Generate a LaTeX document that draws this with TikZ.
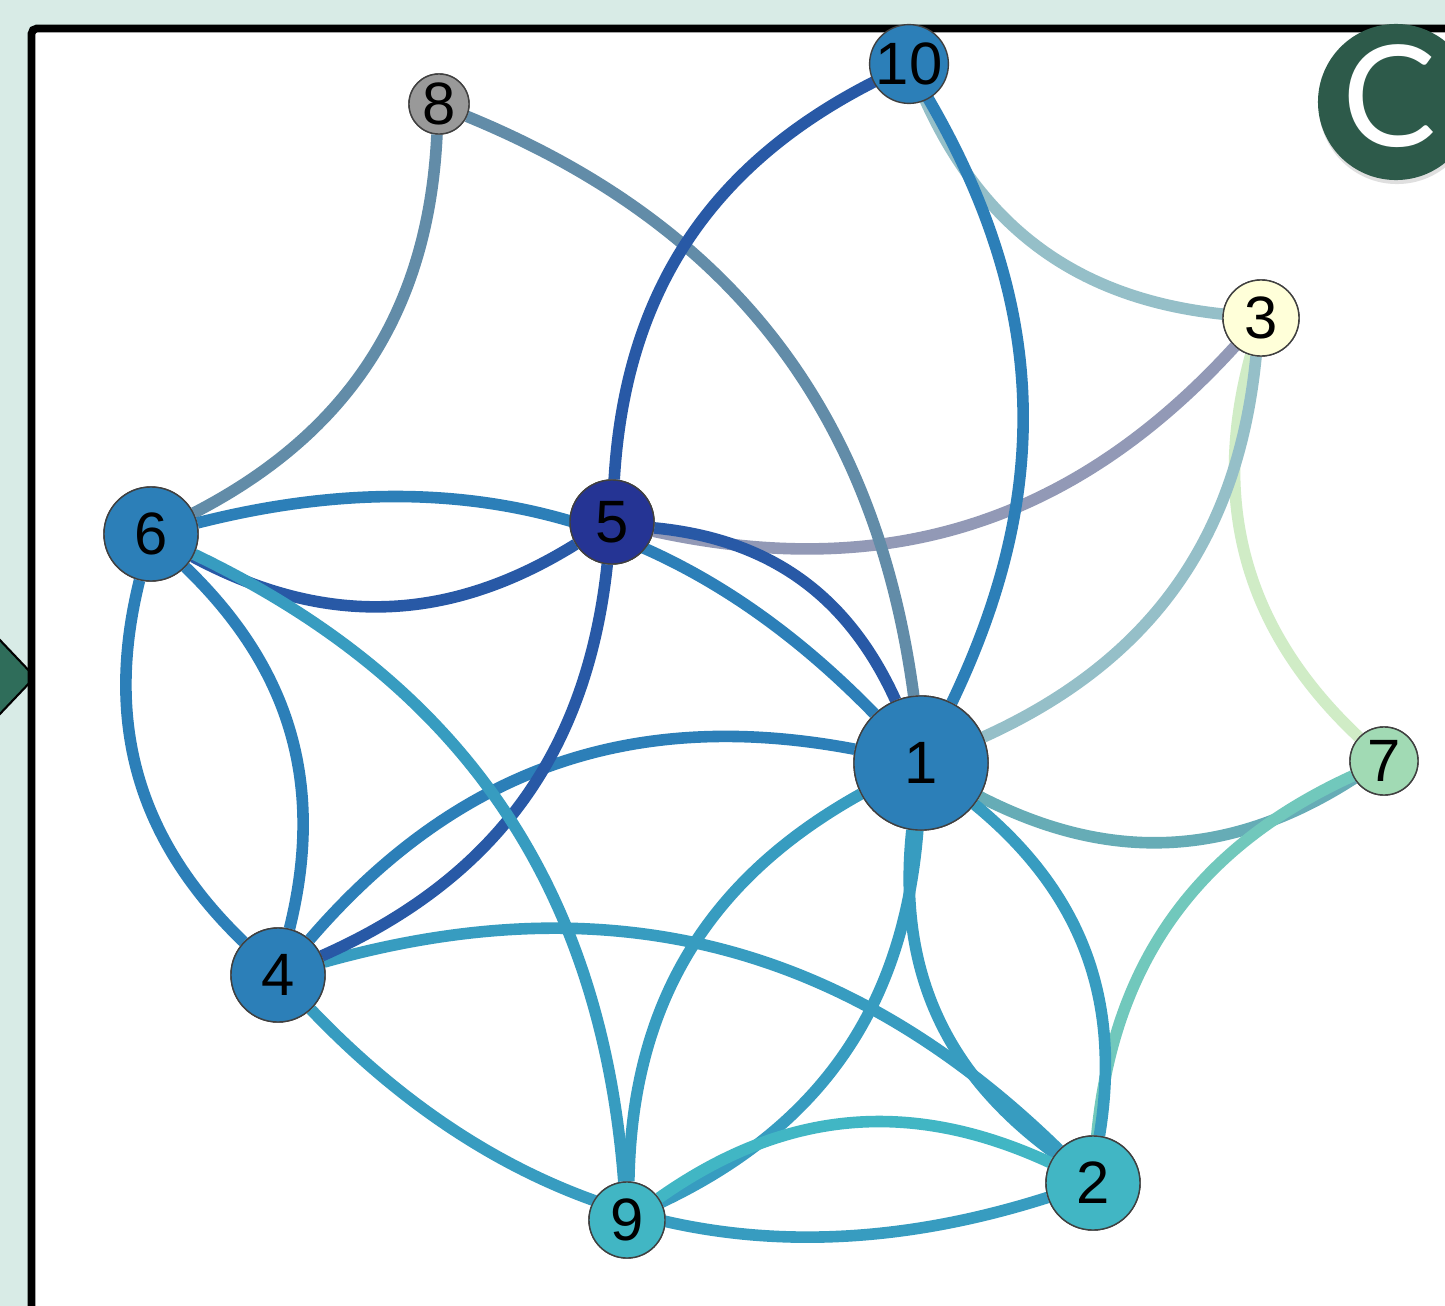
\documentclass[tikz,border=0pt]{standalone}
\usepackage{fontspec}
\setmainfont{Liberation Sans}
\newfontfamily\badgefont{Lato}
\usetikzlibrary{shadows}

% vertex colours
\definecolor{bgteal}{HTML}{D8EBE6}
\definecolor{arrowgreen}{HTML}{2F6D5A}
\definecolor{badgegreen}{HTML}{2D5A4A}
\definecolor{vblue}{HTML}{2C7FB8}
\definecolor{vteal}{HTML}{41B6C4}
\definecolor{vyellow}{HTML}{FFFFD9}
\definecolor{vnavy}{HTML}{253494}
\definecolor{vmint}{HTML}{A1DAB4}
\definecolor{vgrey}{HTML}{999999}
% edge colours (mean of the two end colours)
\definecolor{eblueteal}{HTML}{379CC0}
\definecolor{egreyblue}{HTML}{628CA8}
\definecolor{enavyblue}{HTML}{2859A6}
\definecolor{eyellowblue}{HTML}{95BFC8}
\definecolor{eyellownavy}{HTML}{9299B6}
\definecolor{eyellowmint}{HTML}{D0ECC6}
\definecolor{emintblue}{HTML}{66ACB6}
\definecolor{emintteal}{HTML}{71C8BC}

\begin{document}
\begin{tikzpicture}[x=0.01cm,y=-0.01cm,
  vert/.style={circle,draw=black!75,line width=0.4pt,inner sep=0pt,
    font=\fontsize{17}{17}\selectfont},
  link/.style={line width=3.3pt}]
\useasboundingbox (0,0) rectangle (1445,1306);
\begin{scope}
\clip (0,0) rectangle (1445,1306);
\fill[bgteal] (0,0) rectangle (1445,1306);
% side arrow peeking in from the left
\fill[arrowgreen,draw=black,line width=0.6pt] (-40,598) -- (35,677) -- (-40,756) -- cycle;
% white panel
\draw[line width=2.2pt,fill=white,rounded corners=1.5pt] (31.5,28.5) rectangle (1700,1500);

% vertices (placed first so edges can refer to them, redrawn on top below)
\path
  (921,763)  node[vert,minimum size=1.34cm] (n1) {}
  (1093,1183) node[vert,minimum size=0.94cm] (n2) {}
  (1261,318) node[vert,minimum size=0.76cm] (n3) {}
  (278,975)  node[vert,minimum size=0.94cm] (n4) {}
  (612,522)  node[vert,minimum size=0.84cm] (n5) {}
  (151,534)  node[vert,minimum size=0.94cm] (n6) {}
  (1384,761) node[vert,minimum size=0.68cm] (n7) {}
  (439,104)  node[vert,minimum size=0.60cm] (n8) {}
  (627,1220) node[vert,minimum size=0.76cm] (n9) {}
  (909,64)   node[vert,minimum size=0.70cm] (n10) {};

% edges
\draw[link,eyellowmint] (n3) to[bend right=31] (n7);
\draw[link,eyellowblue] (n10) to[bend right=30] (n3);
\draw[link,eyellowblue] (n3) to[bend left=30] (n1);
\draw[link,eyellownavy] (n3) to[bend left=30] (n5);
\draw[link,emintblue] (n7) to[bend left=30] (n1);
\draw[link,emintteal] (n7) to[bend right=30] (n2);
\draw[link,egreyblue] (n8) to[bend left=30] (n6);
\draw[link,egreyblue] (n8) to[bend left=30] (n1);
\draw[link,vblue] (n10) to[bend left=28] (n1);
\draw[link,enavyblue] (n10) to[bend right=30] (n5);
\draw[link,vblue] (n6) to[bend left=30] (n1);
\draw[link,enavyblue] (n6) to[bend right=30] (n5);
\draw[link,enavyblue] (n5) to[bend left=30] (n1);
\draw[link,vblue] (n6) to[bend right=30] (n4);
\draw[link,vblue] (n6) to[bend left=30] (n4);
\draw[link,vblue] (n4) to[bend left=30] (n1);
\draw[link,eblueteal] (n4) to[bend left=30] (n2);
\draw[link,eblueteal] (n4) to[bend right=32] (n2);
\draw[link,enavyblue] (n5) to[bend left=30] (n4);
\draw[link,eblueteal] (n6) to[bend left=30] (n9);
\draw[link,eblueteal] (n1) to[bend right=30] (n9);
\draw[link,eblueteal] (n1) to[bend left=30] (n9);
\draw[link,eblueteal] (n1) to[bend right=30] (n2);
\draw[link,eblueteal] (n1) to[bend left=30] (n2);
\draw[link,vteal] (n9) to[bend left=30] (n2);

% vertices on top of the edges
\node[vert,fill=vblue,minimum size=1.34cm] at (n1) {1};
\node[vert,fill=vteal,minimum size=0.94cm] at (n2) {2};
\node[vert,fill=vyellow,minimum size=0.76cm] at (n3) {3};
\node[vert,fill=vblue,minimum size=0.94cm] at (n4) {4};
\node[vert,fill=vnavy,minimum size=0.84cm] at (n5) {5};
\node[vert,fill=vblue,minimum size=0.94cm] at (n6) {6};
\node[vert,fill=vmint,minimum size=0.68cm] at (n7) {7};
\node[vert,fill=vgrey,minimum size=0.60cm] at (n8) {8};
\node[vert,fill=vteal,minimum size=0.76cm] at (n9) {9};
\node[vert,fill=vblue,minimum size=0.70cm] at (n10) {10};

% panel badge
\node[circle,fill=badgegreen,minimum size=1.56cm,inner sep=0pt,
  drop shadow={opacity=0.25,shadow xshift=0.01cm,shadow yshift=-0.04cm}] (badge) at (1396,102) {};
\node[text=white,font=\badgefont\fontsize{40}{40}\selectfont,inner sep=0pt] (badgelabel) at (1389,96) {C};
\end{scope}
\end{tikzpicture}
\end{document}
